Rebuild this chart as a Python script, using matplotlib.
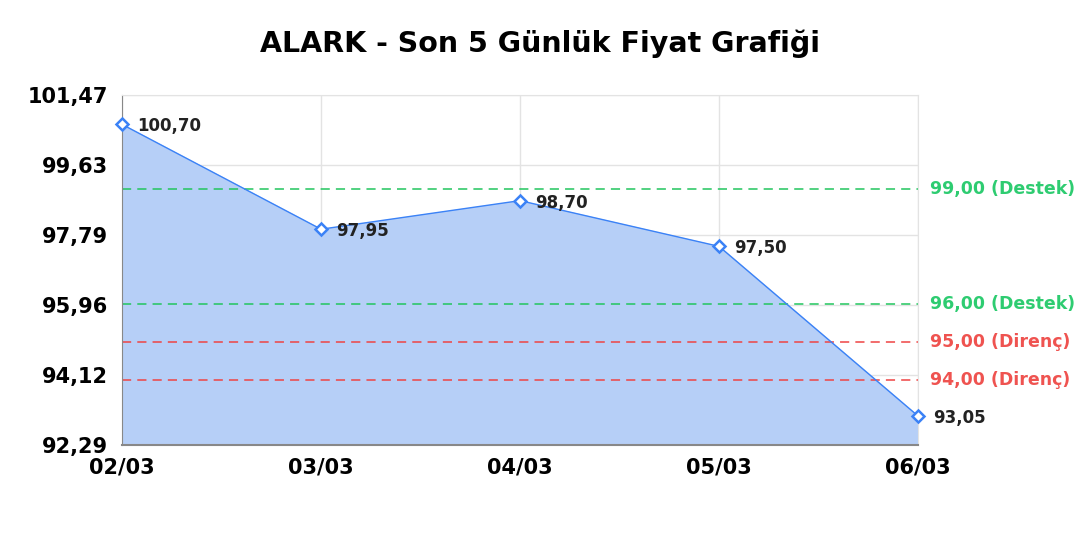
import numpy as np
import matplotlib.pyplot as plt

# Veriler
tarihler = ["02/03", "03/03", "04/03", "05/03", "06/03"]
fiyatlar = [100.70, 97.95, 98.70, 97.50, 93.05]
destek = [99.00, 96.00]
direnc = [95.00, 94.00]
y_ticks = [92.29, 94.12, 95.96, 97.79, 99.63, 101.47]
y_min, y_max = y_ticks[0], y_ticks[-1]


def tr(v):
    return f"{v:.2f}".replace(".", ",")


plt.rcParams['font.family'] = ['DejaVu Sans']
fig = plt.figure(figsize=(10.8, 5.4), dpi=100)
ax = fig.add_axes([0.113, 0.176, 0.737, 0.648])

x = np.arange(len(tarihler))
ax.fill_between(x, fiyatlar, y_min, color='#b6cff7', zorder=1)
ax.plot(x, fiyatlar, color='#3b82f6', linewidth=1, zorder=3)
ax.plot(x, fiyatlar, linestyle='none', marker='D', markersize=6, clip_on=False,
        markerfacecolor='white', markeredgecolor='#3b82f6', markeredgewidth=1.8, zorder=4)

for xi, v in zip(x, fiyatlar):
    ax.annotate(tr(v), (xi, v), xytext=(11, -1.5), textcoords='offset points',
                fontsize=12, fontweight='bold', color='#222222', va='center', ha='left')

for s in destek:
    ax.axhline(s, color='#22c55e', linestyle=(0, (6, 4)), linewidth=1.1, zorder=2)
    ax.text(1.015, s, f"{tr(s)} (Destek)", transform=ax.get_yaxis_transform(),
            color='#2ecc71', fontsize=12.5, fontweight='bold', va='center', ha='left')
for r in direnc:
    ax.axhline(r, color='#ef4444', linestyle=(0, (6, 4)), linewidth=1.1, zorder=2)
    ax.text(1.015, r, f"{tr(r)} (Direnç)", transform=ax.get_yaxis_transform(),
            color='#ef5350', fontsize=12.5, fontweight='bold', va='center', ha='left')

ax.set_yticks(y_ticks)
ax.set_yticklabels([tr(v) for v in y_ticks], fontsize=15, fontweight='bold')
ax.set_xticks(x)
ax.set_xticklabels(tarihler, fontsize=15, fontweight='bold')
ax.set_xlim(0, len(tarihler) - 1)
ax.set_ylim(y_min, y_max)
ax.tick_params(axis='y', length=0, pad=10)
ax.tick_params(axis='x', length=0, pad=9)

ax.grid(True, color='#e3e3e3', linewidth=1, zorder=0)
ax.set_axisbelow(True)
for side in ['top', 'right']:
    ax.spines[side].set_color('#e3e3e3')
ax.spines['left'].set_color('#888888')
ax.spines['bottom'].set_color('#888888')
ax.spines['bottom'].set_linewidth(1.5)

fig.suptitle("ALARK - Son 5 Günlük Fiyat Grafiği", fontsize=20.5, fontweight='bold', y=0.945)

fig.savefig("out.png", dpi=100)
